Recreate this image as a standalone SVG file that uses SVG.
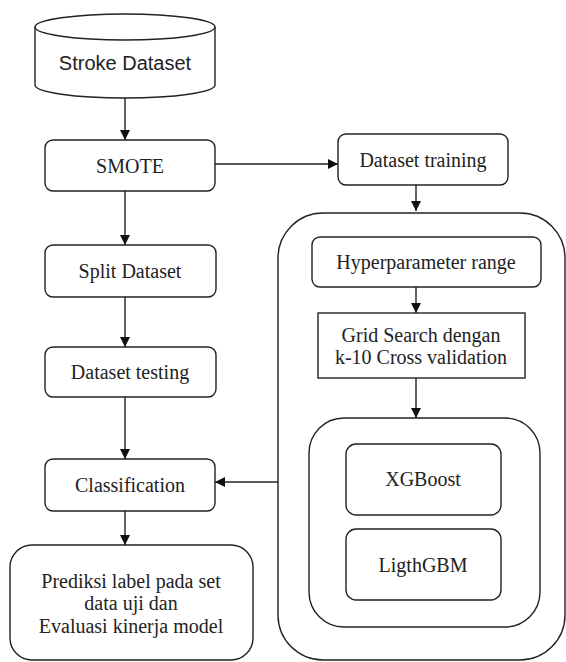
<svg xmlns="http://www.w3.org/2000/svg" width="566" height="662" viewBox="0 0 566 662">
<style>
.b{fill:#fff;stroke:#222;stroke-width:1.4}
.c{fill:none;stroke:#222;stroke-width:1.4}
.t{font-family:"Liberation Serif","Times New Roman",serif;font-size:20px;fill:#222;text-anchor:middle}
.s{font-family:"Liberation Sans",Arial,sans-serif;font-size:20px;fill:#222;text-anchor:middle}
</style>
<defs>
<marker id="ah" viewBox="0 0 10 10" refX="10" refY="5" markerWidth="10" markerHeight="10" markerUnits="userSpaceOnUse" orient="auto">
<path d="M0,0 L10,5 L0,10 Z" fill="#111"/>
</marker>
</defs>
<rect width="566" height="662" fill="#fff"/>
<g id="container-training">
<rect class="b" x="278" y="213" width="287" height="447" rx="45"/>
</g>
<g id="container-models">
<rect class="b" x="309" y="418" width="231" height="209" rx="35"/>
</g>
<g id="connectors" class="c">
<line x1="125" y1="98" x2="125" y2="140" marker-end="url(#ah)"/>
<line x1="215" y1="164" x2="338" y2="164" marker-end="url(#ah)"/>
<line x1="416" y1="185" x2="416" y2="211" marker-end="url(#ah)"/>
<line x1="416" y1="287" x2="416" y2="313" marker-end="url(#ah)"/>
<line x1="416" y1="378" x2="416" y2="418" marker-end="url(#ah)"/>
<line x1="125" y1="191" x2="125" y2="245" marker-end="url(#ah)"/>
<line x1="125" y1="297" x2="125" y2="347" marker-end="url(#ah)"/>
<line x1="125" y1="397" x2="125" y2="459" marker-end="url(#ah)"/>
<line x1="278" y1="482" x2="215" y2="482" marker-end="url(#ah)"/>
<line x1="125" y1="511" x2="125" y2="545" marker-end="url(#ah)"/>
</g>
<g id="stroke-dataset">
<path class="b" d="M35,27 A90,13 0 0 1 215,27 V85 A90,13 0 0 1 35,85 Z"/>
<path class="c" d="M35,27 A90,13 0 0 0 215,27"/>
<text class="s" x="125" y="70">Stroke Dataset</text>
</g>
<g id="smote">
<rect class="b" x="45" y="140" width="170" height="51" rx="8"/>
<text class="t" x="130" y="173">SMOTE</text>
</g>
<g id="dataset-training">
<rect class="b" x="338" y="134" width="170" height="51" rx="8"/>
<text class="t" x="423" y="167">Dataset training</text>
</g>
<g id="hyperparameter-range">
<rect class="b" x="312" y="237" width="229" height="50" rx="8"/>
<text class="t" x="426" y="269">Hyperparameter range</text>
</g>
<g id="grid-search">
<rect class="b" x="318" y="313" width="207" height="65"/>
<text class="t" x="421" y="342">Grid Search dengan</text>
<text class="t" x="421" y="364">k-10 Cross validation</text>
</g>
<g id="xgboost">
<rect class="b" x="346" y="444" width="155" height="71" rx="10"/>
<text class="t" x="423" y="486">XGBoost</text>
</g>
<g id="lightgbm">
<rect class="b" x="346" y="529" width="155" height="71" rx="10"/>
<text class="t" x="423" y="572">LigthGBM</text>
</g>
<g id="split-dataset">
<rect class="b" x="45" y="245" width="171" height="52" rx="8"/>
<text class="t" x="130" y="278">Split Dataset</text>
</g>
<g id="dataset-testing">
<rect class="b" x="45" y="347" width="171" height="50" rx="8"/>
<text class="t" x="130" y="379">Dataset testing</text>
</g>
<g id="classification">
<rect class="b" x="45" y="459" width="170" height="52" rx="8"/>
<text class="t" x="130" y="492">Classification</text>
</g>
<g id="prediksi">
<rect class="b" x="10" y="545" width="243" height="115" rx="22"/>
<text class="t" x="131" y="588">Prediksi label pada set</text>
<text class="t" x="131" y="610">data uji dan</text>
<text class="t" x="131" y="633">Evaluasi kinerja model</text>
</g>
</svg>
